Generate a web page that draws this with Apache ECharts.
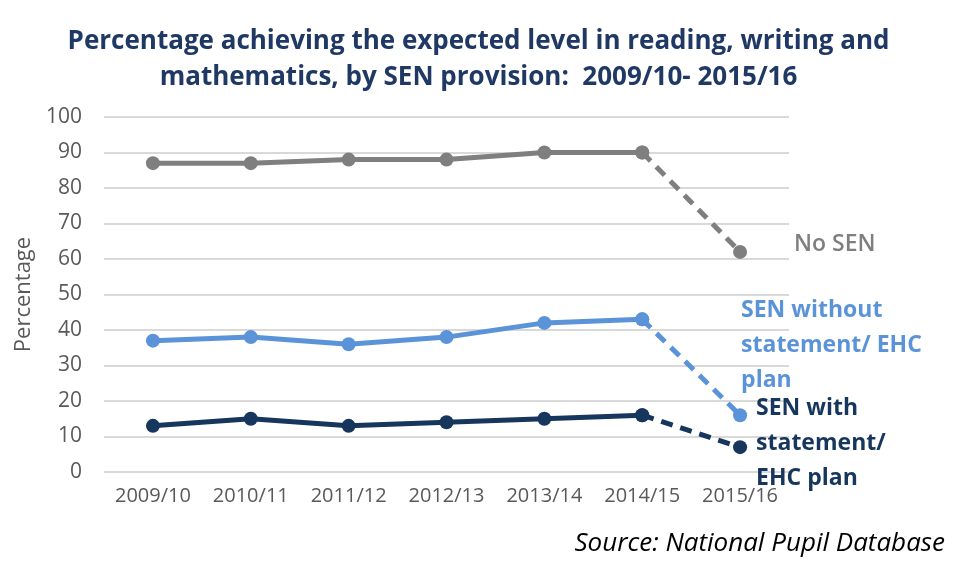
<!DOCTYPE html>
<html>
<head>
<meta charset="utf-8">
<script src="https://cdn.jsdelivr.net/npm/echarts@6/dist/echarts.min.js"></script>
<style>
  html, body { margin: 0; padding: 0; background: #fff; }
  #chart { width: 957px; height: 583px; }
</style>
</head>
<body>
<div id="chart"></div>
<script>
// School years on the category axis
const years = ['2009/10', '2010/11', '2011/12', '2012/13', '2013/14', '2014/15', '2015/16'];

// Percentage achieving the expected level, by SEN provision
const noSen = [87, 87, 88, 88, 90, 90, 62];
const senSupport = [37, 38, 36, 38, 42, 43, 16];
const senStatement = [13, 15, 13, 14, 15, 16, 7];

// Series names shown next to the final point
const seriesNames = ['No SEN', 'SEN without\nstatement/ EHC\nplan', 'SEN with\nstatement/\nEHC plan'];

const FONT = '"Open Sans", "Noto Sans", sans-serif';
const colors = ['#7f7f7f', '#5b93d8', '#17365d'];

// The last year uses a new assessment, so the final step is drawn dashed
function solidPart(arr) {
  return arr.map((v, i) => (i < arr.length - 1 ? v : null));
}
function dashedPart(arr) {
  return arr.map((v, i) => (i >= arr.length - 2 ? v : null));
}

const groups = [
  { data: noSen, color: colors[0], name: seriesNames[0], weight: 600, size: 23, offset: [42, -7] },
  { data: senSupport, color: colors[1], name: seriesNames[1], weight: 'bold', size: 23, offset: [-11, -70] },
  { data: senStatement, color: colors[2], name: seriesNames[2], weight: 'bold', size: 23, offset: [4, -4] }
];

const series = [];
groups.forEach((g) => {
  series.push({
    type: 'line',
    data: solidPart(g.data),
    symbol: 'circle',
    symbolSize: 14,
    lineStyle: { color: g.color, width: 5 },
    itemStyle: { color: g.color },
    z: 3
  });
  series.push({
    type: 'line',
    data: dashedPart(g.data).map((v, i, a) =>
      i === a.length - 1
        ? {
            value: v,
            label: {
              show: true,
              position: 'right',
              offset: g.offset,
              formatter: g.name,
              color: g.color,
              fontFamily: FONT,
              fontSize: g.size,
              fontWeight: g.weight,
              lineHeight: 35,
              align: 'left'
            }
          }
        : v
    ),
    symbol: 'circle',
    symbolSize: 14,
    lineStyle: { color: g.color, width: 5, type: [12, 8] },
    itemStyle: { color: g.color },
    z: 2
  });
});

const chart = echarts.init(document.getElementById('chart'), null, { renderer: 'canvas' });
chart.setOption({
  animation: false,
  backgroundColor: '#fff',
  title: {
    text: 'Percentage achieving the expected level in reading, writing and\nmathematics, by SEN provision:  2009/10- 2015/16',
    left: 'center',
    top: 19,
    textStyle: {
      fontFamily: FONT,
      fontSize: 26,
      fontWeight: 'bold',
      color: '#1f3864',
      lineHeight: 36
    }
  },
  grid: { left: 104, right: 168, top: 117, bottom: 111 },
  xAxis: {
    type: 'category',
    data: years,
    boundaryGap: true,
    axisLine: { show: false },
    axisTick: { show: false },
    axisLabel: {
      interval: 0,
      margin: 14,
      color: '#595959',
      fontFamily: FONT,
      fontSize: 20
    }
  },
  yAxis: {
    type: 'value',
    min: 0,
    max: 100,
    interval: 10,
    name: 'Percentage',
    nameLocation: 'middle',
    nameGap: 56,
    nameTextStyle: { color: '#595959', fontFamily: FONT, fontSize: 22 },
    axisLine: { show: false },
    axisTick: { show: false },
    axisLabel: { color: '#595959', fontFamily: FONT, fontSize: 21, margin: 22 },
    splitLine: { lineStyle: { color: '#d9d9d9', width: 2 } }
  },
  series: series,
  graphic: [
    {
      type: 'text',
      right: 12,
      top: 531,
      style: {
        text: 'Source: National Pupil Database',
        fill: '#000',
        font: 'italic 26px ' + FONT
      }
    }
  ]
});
</script>
</body>
</html>
